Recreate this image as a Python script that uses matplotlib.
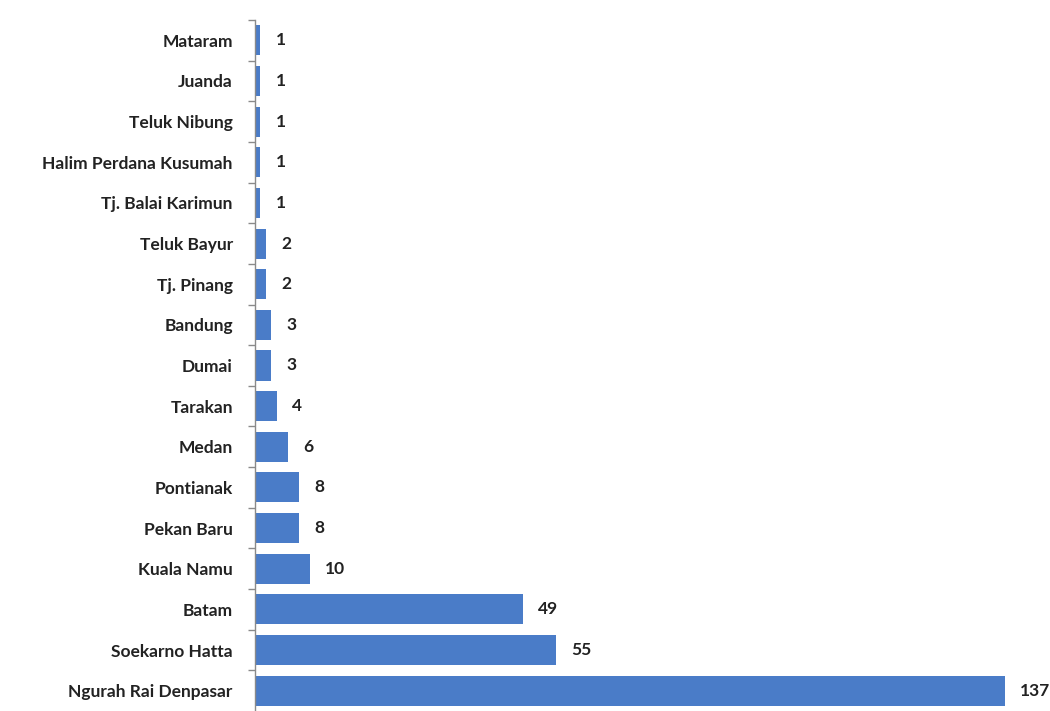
import matplotlib.pyplot as plt

airports = ['Mataram', 'Juanda', 'Teluk Nibung', 'Halim Perdana Kusumah',
            'Tj. Balai Karimun', 'Teluk Bayur', 'Tj. Pinang', 'Bandung',
            'Dumai', 'Tarakan', 'Medan', 'Pontianak', 'Pekan Baru',
            'Kuala Namu', 'Batam', 'Soekarno Hatta', 'Ngurah Rai Denpasar']
counts = [1, 1, 1, 1, 1, 2, 2, 3, 3, 4, 6, 8, 8, 10, 49, 55, 137]

plt.rcParams['font.family'] = ['Lato', 'DejaVu Sans']

fig = plt.figure(figsize=(10.5, 7.11), dpi=100)
ax = fig.add_axes([255 / 1050, 0, 795 / 1050, 691 / 711])

y = list(range(len(airports)))[::-1]
bar_color = '#4a7cc8'
ax.barh(y, counts, height=0.74, color=bar_color, edgecolor='none')

for yi, c in zip(y, counts):
    ax.annotate(str(c), (c, yi), xytext=(11, 0), textcoords='offset points',
                va='center', ha='left', fontsize=12.5, color='#222222',
                fontweight='bold')

ax.set_xlim(0, 145.3)
ax.set_ylim(-0.5, len(airports) - 0.5)
ax.set_yticks(y)
ax.set_yticklabels(airports, fontsize=12.5, color='#222222', fontweight='bold')
ax.tick_params(axis='y', length=0, pad=16)
ax.set_yticks([i + 0.5 for i in range(len(airports))], minor=True)
ax.tick_params(axis='y', which='minor', length=5, color='#8a8a8a', width=1)
ax.set_xticks([])

for side in ['top', 'right', 'bottom']:
    ax.spines[side].set_visible(False)
ax.spines['left'].set_color('#8a8a8a')
ax.spines['left'].set_linewidth(1)

fig.savefig('out.png', dpi=100)
